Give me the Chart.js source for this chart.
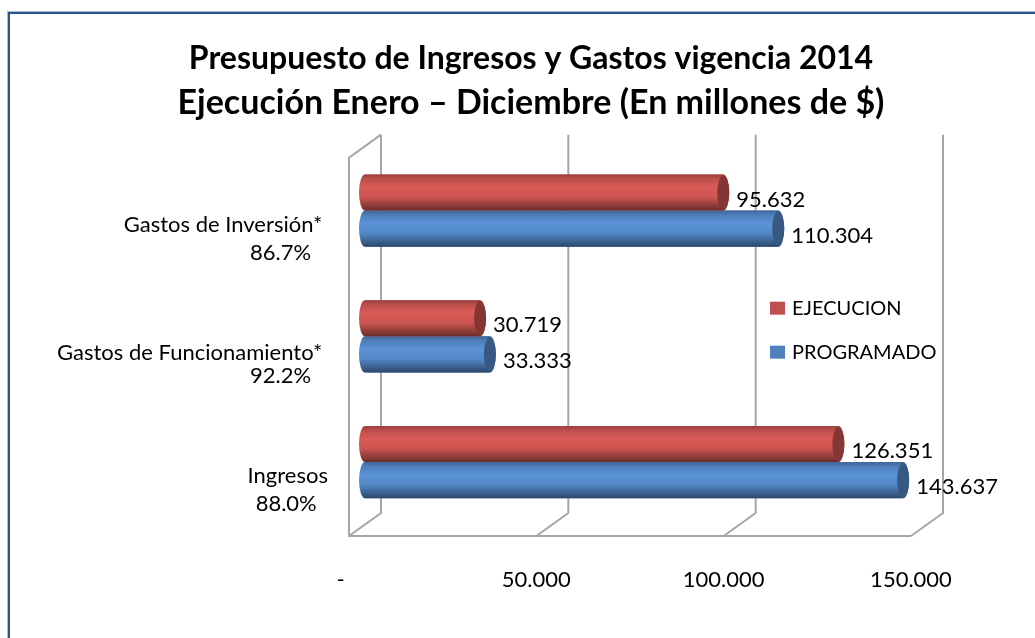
<!DOCTYPE html>
<html>
<head>
<meta charset="utf-8">
<style>
  html, body { margin: 0; padding: 0; background: #fff; overflow: hidden; }
  #marco { position: absolute; left: 8px; top: 12px; width: 1060px; height: 660px; border: 2px solid #27558f; box-shadow: 0 0 0 1px #a9bcd6; box-sizing: border-box; }
  #caja { position: absolute; left: 0; top: 0; width: 1035px; height: 638px; }
</style>
</head>
<body>
<div id="marco"></div>
<div id="caja"><canvas id="grafica" width="1035" height="638"></canvas></div>
<script src="https://cdn.jsdelivr.net/npm/chart.js@4/dist/chart.umd.min.js"></script>
<script>
var categorias = [
  ['Gastos de Inversión*\u00A0', '86.7%\u00A0\u00A0\u00A0'],
  ['Gastos de Funcionamiento*\u00A0', '92.2%\u00A0\u00A0\u00A0'],
  ['Ingresos', '88.0%\u00A0\u00A0']
];
var ejecucion = [95632, 30719, 126351];
var programado = [110304, 33333, 143637];
var titulo = 'Presupuesto de Ingresos y Gastos vigencia 2014';
var subtitulo = 'Ejecución Enero – Diciembre (En millones de $)';
var marcasX = [0, 50000, 100000, 150000];

var fuente = 'Lato, Carlito, sans-serif';
var fondo = 16;   // profundidad del piso en x
var alto = 23;    // profundidad del piso en y

function formatoMiles(v) {
  return String(v).replace(/\B(?=(\d{3})+$)/g, '.');
}

function oscurecer(rgb, f) {
  return 'rgb(' + rgb.map(function (c) { return Math.min(255, Math.round(c * f)); }).join(',') + ')';
}

// Paredes y piso en perspectiva, a partir de la escala x
var paredes = {
  id: 'paredes',
  beforeDatasetsDraw: function (chart) {
    var c = chart.ctx, e = chart.scales.x;
    var arriba = chart.chartArea.top - 13, abajo = chart.chartArea.bottom + 11;
    c.save();
    c.strokeStyle = '#a6a6a6';
    c.lineWidth = 2;
    marcasX.forEach(function (v) {
      var x = e.getPixelForValue(v);
      c.beginPath();
      c.moveTo(x + fondo, arriba);
      c.lineTo(x + fondo, abajo - alto);
      c.lineTo(x - fondo, abajo);
      c.stroke();
    });
    var x0 = e.getPixelForValue(0), x1 = e.getPixelForValue(150000);
    c.beginPath();
    c.moveTo(x0 + fondo, arriba);
    c.lineTo(x0 - fondo, arriba + alto);
    c.lineTo(x0 - fondo, abajo);
    c.lineTo(x1 - fondo, abajo);
    c.stroke();
    c.restore();
  }
};

// Cilindros encima de cada barra
var cilindros = {
  id: 'cilindros',
  afterDatasetDraw: function (chart, args) {
    var c = chart.ctx;
    var ds = chart.data.datasets[args.index];
    var rgb = ds.rgb;
    args.meta.data.forEach(function (b, i) {
      var y0 = b.y - b.height / 2, y1 = b.y + b.height / 2;
      var g = c.createLinearGradient(0, y0, 0, y1);
      g.addColorStop(0, oscurecer(rgb, 0.8));
      g.addColorStop(0.12, oscurecer(rgb, 0.98));
      g.addColorStop(0.35, oscurecer(rgb, 1.14));
      g.addColorStop(0.62, oscurecer(rgb, 1.06));
      g.addColorStop(0.88, oscurecer(rgb, 0.72));
      g.addColorStop(1, oscurecer(rgb, 0.55));
      c.save();
      c.fillStyle = g;
      c.beginPath();
      c.moveTo(b.base, y0);
      c.lineTo(b.x, y0);
      c.ellipse(b.x, b.y, 6, b.height / 2, 0, -Math.PI / 2, Math.PI / 2);
      c.lineTo(b.base, y1);
      c.ellipse(b.base, b.y, 6, b.height / 2, 0, Math.PI / 2, Math.PI * 1.5);
      c.closePath();
      c.fill();
      c.fillStyle = oscurecer(rgb, 0.68);
      c.beginPath();
      c.ellipse(b.x, b.y, 6, b.height / 2 - 1, 0, 0, Math.PI * 2);
      c.fill();
      c.fillStyle = '#000';
      c.font = '22px ' + fuente;
      c.textAlign = 'left';
      c.textBaseline = 'middle';
      c.fillText(formatoMiles(ds.data[i]), b.x + 13, b.y + 7);
      c.restore();
    });
  }
};

// Leyenda dentro del area de la grafica
var leyenda = {
  id: 'leyenda',
  afterDraw: function (chart) {
    var c = chart.ctx, e = chart.scales.x, a = chart.chartArea;
    var x = e.getPixelForValue(108100), y = a.top + 160;
    c.save();
    c.font = '20px ' + fuente;
    c.textBaseline = 'middle';
    chart.data.datasets.forEach(function (ds, i) {
      var yi = y + i * 44;
      c.fillStyle = ds.backgroundColor;
      c.fillRect(x, yi - 6, 15, 13);
      c.fillStyle = '#000';
      c.fillText(ds.label, x + 22, yi + 1);
    });
    c.restore();
  }
};

new Chart(document.getElementById('grafica'), {
  type: 'bar',
  plugins: [paredes, cilindros, leyenda],
  data: {
    labels: categorias,
    datasets: [
      { label: 'EJECUCION', data: ejecucion, backgroundColor: '#c0504d', rgb: [192, 80, 77] },
      { label: 'PROGRAMADO', data: programado, backgroundColor: '#4f81bd', rgb: [79, 129, 189] }
    ]
  },
  options: {
    indexAxis: 'y',
    responsive: false,
    animation: false,
    categoryPercentage: 0.574,
    barPercentage: 1,
    layout: { padding: { left: 27, right: 0, top: 0, bottom: 40 } },
    plugins: {
      legend: { display: false },
      tooltip: { enabled: false },
      title: {
        display: true,
        text: titulo,
        color: '#000',
        font: { family: fuente, size: 32, weight: 'bold', lineHeight: 1.4 },
        padding: { top: 36, bottom: 0 }
      },
      subtitle: {
        display: true,
        text: subtitulo,
        color: '#000',
        font: { family: fuente, size: 34, weight: 'bold', lineHeight: 1.32 },
        padding: { top: 0, bottom: 22 }
      }
    },
    scales: {
      x: {
        min: 0,
        max: 150000,
        afterFit: function (s) { s.height = 73; },
        afterBuildTicks: function (s) { s.ticks = marcasX.map(function (v) { return { value: v }; }); },
        grid: { display: false },
        border: { display: false },
        ticks: {
          color: '#000',
          padding: 34,
          labelOffset: -16,
          maxRotation: 0,
          font: { family: fuente, size: 22 },
          callback: function (v) { return v === 0 ? '-\u00A0\u00A0\u00A0' : formatoMiles(v); }
        }
      },
      y: {
        afterFit: function (s) { s.width = 338; },
        grid: { display: false },
        border: { display: false },
        ticks: {
          color: '#000',
          padding: 29,
          labelOffset: 28,
          font: function (ctx) {
            return { family: fuente, size: 22, lineHeight: ctx.index === 1 ? 1.02 : 1.27 };
          }
        }
      },
      // eje vacio: reserva el margen derecho sin descentrar el titulo
      margen: {
        axis: 'y',
        position: 'right',
        afterFit: function (s) { s.width = 108; },
        grid: { display: false },
        border: { display: false },
        ticks: { display: false }
      }
    }
  }
});
</script>
</body>
</html>
